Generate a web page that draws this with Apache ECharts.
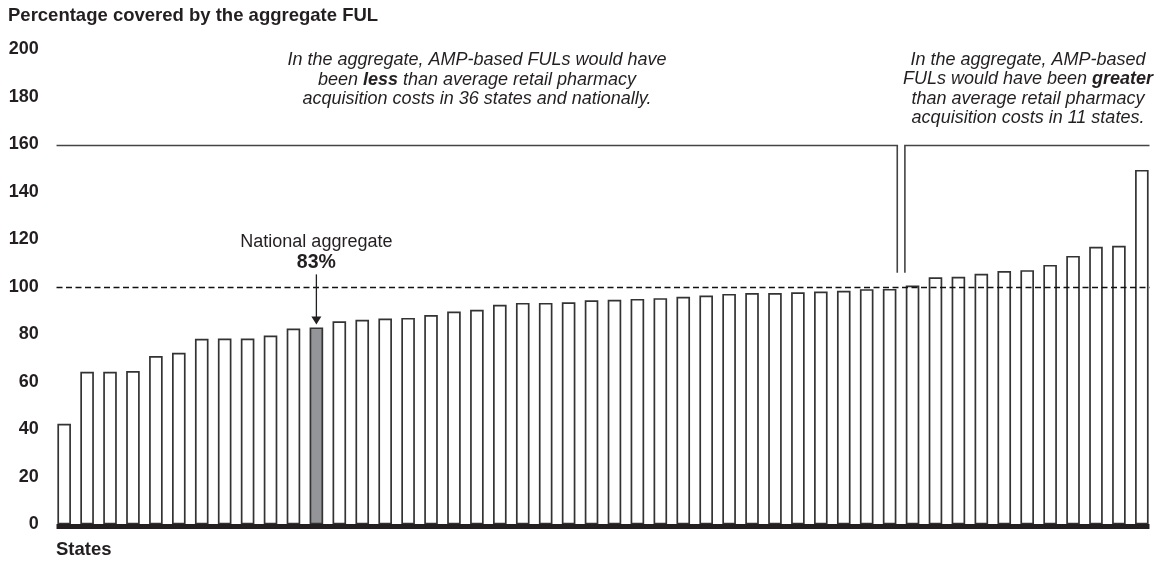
<!DOCTYPE html>
<html>
<head>
<meta charset="utf-8">
<script src="https://cdn.jsdelivr.net/npm/echarts@6/dist/echarts.min.js"></script>
<style>
  html, body { margin: 0; padding: 0; background: #fff; }
  #chart { width: 1166px; height: 567px; }
</style>
</head>
<body>
<div id="chart"></div>
<script>
// ---- Data ----
const categories = [
  'S01','S02','S03','S04','S05','S06','S07','S08','S09','S10','S11','National',
  'S12','S13','S14','S15','S16','S17','S18','S19','S20','S21','S22','S23',
  'S24','S25','S26','S27','S28','S29','S30','S31','S32','S33','S34','S35',
  'S36','S37','S38','S39','S40','S41','S42','S43','S44','S45','S46','S47'
];
const values = [
  42.4, 64.3, 64.3, 64.6, 70.9, 72.3, 78.2, 78.3, 78.3, 79.6,
  82.5, 83.0, 85.6, 86.2, 86.7, 87.0, 88.2, 89.7, 90.4, 92.5,
  93.3, 93.3, 93.6, 94.4, 94.6, 95.0, 95.3, 95.9, 96.4, 97.1,
  97.5, 97.5, 97.8, 98.1, 98.4, 99.1, 99.2, 100.6, 104.1, 104.3,
  105.6, 106.7, 107.1, 109.3, 113.1, 116.9, 117.4, 149.3
];
const nationalIndex = 11;
const nationalLabel = ['National aggregate', '83%'];
const yTicks = { min: 0, max: 200, interval: 20 };
const referenceValue = 100;
const bracketTopValue = 160;
const bracketBottomValue = 106;
const lastLessIndex = 36;   // last bar below 100 (left bracket)
const firstGreaterIndex = 37; // first bar above 100 (right bracket)
const yAxisTitle = 'Percentage covered by the aggregate FUL';
const xAxisTitle = 'States';
const leftNote = '{i|In the aggregate, AMP-based FULs would have}\n{i|been }{b|less}{i| than average retail pharmacy}\n{i|acquisition costs in 36 states and nationally.}';
const rightNote = '{i|In the aggregate, AMP-based}\n{i|FULs would have been }{b|greater}\n{i|than average retail pharmacy}\n{i|acquisition costs in 11 states.}';

// ---- Chart ----
const FONT = '"Liberation Sans", Arial, Helvetica, sans-serif';
const INK = '#231f20';
const BAR_W = 13.6;
const BORDER = 1.7;
const chart = echarts.init(document.getElementById('chart'), null, { renderer: 'canvas' });

const option = {
  animation: false,
  backgroundColor: '#fff',
  grid: { left: 52.7, right: 12.7, top: 49.5, bottom: 42.5, containLabel: false },
  xAxis: {
    type: 'category',
    data: categories,
    axisLine: { show: false },
    axisTick: { show: false },
    axisLabel: { show: false },
    splitLine: { show: false }
  },
  yAxis: {
    type: 'value',
    min: yTicks.min, max: yTicks.max, interval: yTicks.interval,
    axisLine: { show: false },
    axisTick: { show: false },
    splitLine: { show: false },
    axisLabel: {
      color: INK, fontFamily: FONT, fontWeight: 'bold', fontSize: 18, margin: 14
    }
  },
  series: [{
    type: 'bar',
    barWidth: BAR_W,
    data: values.map((v, i) => i === nationalIndex
      ? { value: v, itemStyle: { color: '#939598' } }
      : v),
    itemStyle: { color: '#ffffff', borderColor: '#333333', borderWidth: BORDER },
    z: 2
  }]
};
chart.setOption(option);

function px(i, v) { return chart.convertToPixel({ seriesIndex: 0 }, [i, v]); }
const half = (BAR_W + BORDER) / 2;
const n = values.length;
const xStart = px(0, 0)[0] - half;
const xEnd = px(n - 1, 0)[0] + half;
const y0 = px(0, 0)[1];
const yRef = Math.round(px(0, referenceValue)[1]) + 0.5;
const yTop = Math.round(px(0, bracketTopValue)[1]) + 0.5;
const yBot = px(0, bracketBottomValue)[1];
const xLeftBr = px(lastLessIndex, 0)[0] + half;
const xRightBr = px(firstGreaterIndex, 0)[0] - half;
const nat = px(nationalIndex, values[nationalIndex]);

const richStyles = {
  i: { fontFamily: FONT, fontStyle: 'italic', fontSize: 18, fill: INK, lineHeight: 19.5 },
  b: { fontFamily: FONT, fontStyle: 'italic', fontWeight: 'bold', fontSize: 18, fill: INK, lineHeight: 19.5 }
};

chart.setOption({
  graphic: [
    // baseline
    { type: 'line', z: 10, shape: { x1: xStart, y1: y0 + 2, x2: xEnd, y2: y0 + 2 },
      style: { stroke: INK, lineWidth: 5 } },
    // reference dashed line at 100
    { type: 'line', z: 5, shape: { x1: xStart, y1: yRef, x2: xEnd, y2: yRef },
      style: { stroke: '#111', lineWidth: 1.3, lineDash: [6, 3.5] } },
    // left bracket
    { type: 'polyline', z: 5, shape: { points: [[xStart, yTop], [xLeftBr, yTop], [xLeftBr, yBot]] },
      style: { stroke: '#444', lineWidth: 1.6, fill: null } },
    // right bracket
    { type: 'polyline', z: 5, shape: { points: [[xRightBr, yBot], [xRightBr, yTop], [xEnd, yTop]] },
      style: { stroke: '#444', lineWidth: 1.6, fill: null } },
    // national arrow
    { type: 'line', z: 6, shape: { x1: nat[0], y1: nat[1] - 53, x2: nat[0], y2: nat[1] - 8 },
      style: { stroke: INK, lineWidth: 1.3 } },
    { type: 'polygon', z: 6, shape: { points: [[nat[0] - 5, nat[1] - 11], [nat[0] + 5, nat[1] - 11], [nat[0], nat[1] - 3]] },
      style: { fill: INK } },
    { type: 'text', z: 6, style: { x: nat[0], y: nat[1] - 85, text: nationalLabel[0], textAlign: 'center', textVerticalAlign: 'middle',
      font: '18px ' + FONT, fill: INK } },
    { type: 'text', z: 6, style: { x: nat[0], y: nat[1] - 65, text: nationalLabel[1], textAlign: 'center', textVerticalAlign: 'middle',
      font: 'bold 19.5px ' + FONT, fill: INK } },
    // notes
    { type: 'text', z: 6, style: { x: 477, y: 50.5, text: leftNote, rich: richStyles, textAlign: 'center', textVerticalAlign: 'top' } },
    { type: 'text', z: 6, style: { x: 1028, y: 50, text: rightNote, rich: richStyles, textAlign: 'center', textVerticalAlign: 'top' } },
    // axis titles
    { type: 'text', z: 6, style: { x: 8, y: 16, text: yAxisTitle, textVerticalAlign: 'middle',
      font: 'bold 18.5px ' + FONT, fill: INK } },
    { type: 'text', z: 6, style: { x: 56, y: 550, text: xAxisTitle, textVerticalAlign: 'middle',
      font: 'bold 18.5px ' + FONT, fill: INK } }
  ]
});
</script>
</body>
</html>
